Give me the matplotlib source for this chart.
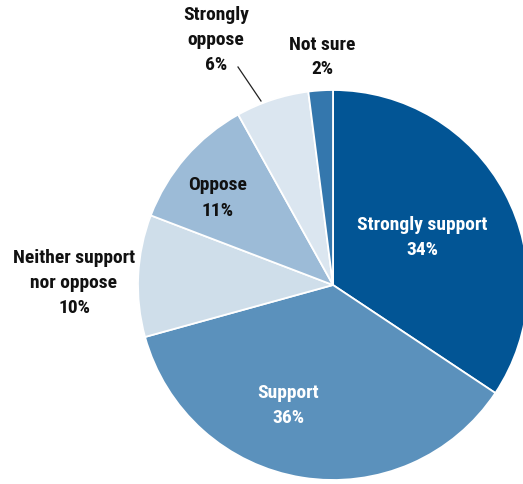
import matplotlib.pyplot as plt

# Survey shares (percent)
categories = ['Strongly support', 'Support', 'Neither support\nnor oppose',
              'Oppose', 'Strongly\noppose', 'Not sure']
values = [34, 36, 10, 11, 6, 2]
colors = ['#025595', '#5b91bc', '#cfdeea', '#9cbbd7', '#dbe6f0', '#3477ad']
text_colors = ['white', 'white', '#111111', '#111111', '#111111', '#111111']

# label centres in pixel coords (x, y from top)
label_pos = [(422, 238), (288, 406), (74, 283), (218, 198), (216, 40), (322, 57)]

W, H = 523, 485
fig = plt.figure(figsize=(W / 100, H / 100), dpi=100)
ax = fig.add_axes([0, 0, 1, 1])
ax.axis('off')

cx, cy, R = 333, H - 286, 195
ax.pie(values, colors=colors, startangle=90, counterclock=False,
       center=(cx, cy), radius=R,
       wedgeprops=dict(edgecolor='white', linewidth=1.3))
ax.set_xlim(0, W)
ax.set_ylim(0, H)
ax.set_aspect('auto')

fam = ['Roboto Condensed', 'Liberation Sans Narrow', 'DejaVu Sans']
for cat, v, tc, (x, y) in zip(categories, values, text_colors, label_pos):
    ax.text(x, H - y, f'{cat}\n{v}%', ha='center', va='center', color=tc,
            fontsize=14, family=fam, fontweight='bold', linespacing=1.5)

# leader line for the small "Strongly oppose" slice
ax.plot([238, 261], [H - 68, H - 102], color='#222222', lw=0.9)

fig.savefig('out.png', dpi=100)
